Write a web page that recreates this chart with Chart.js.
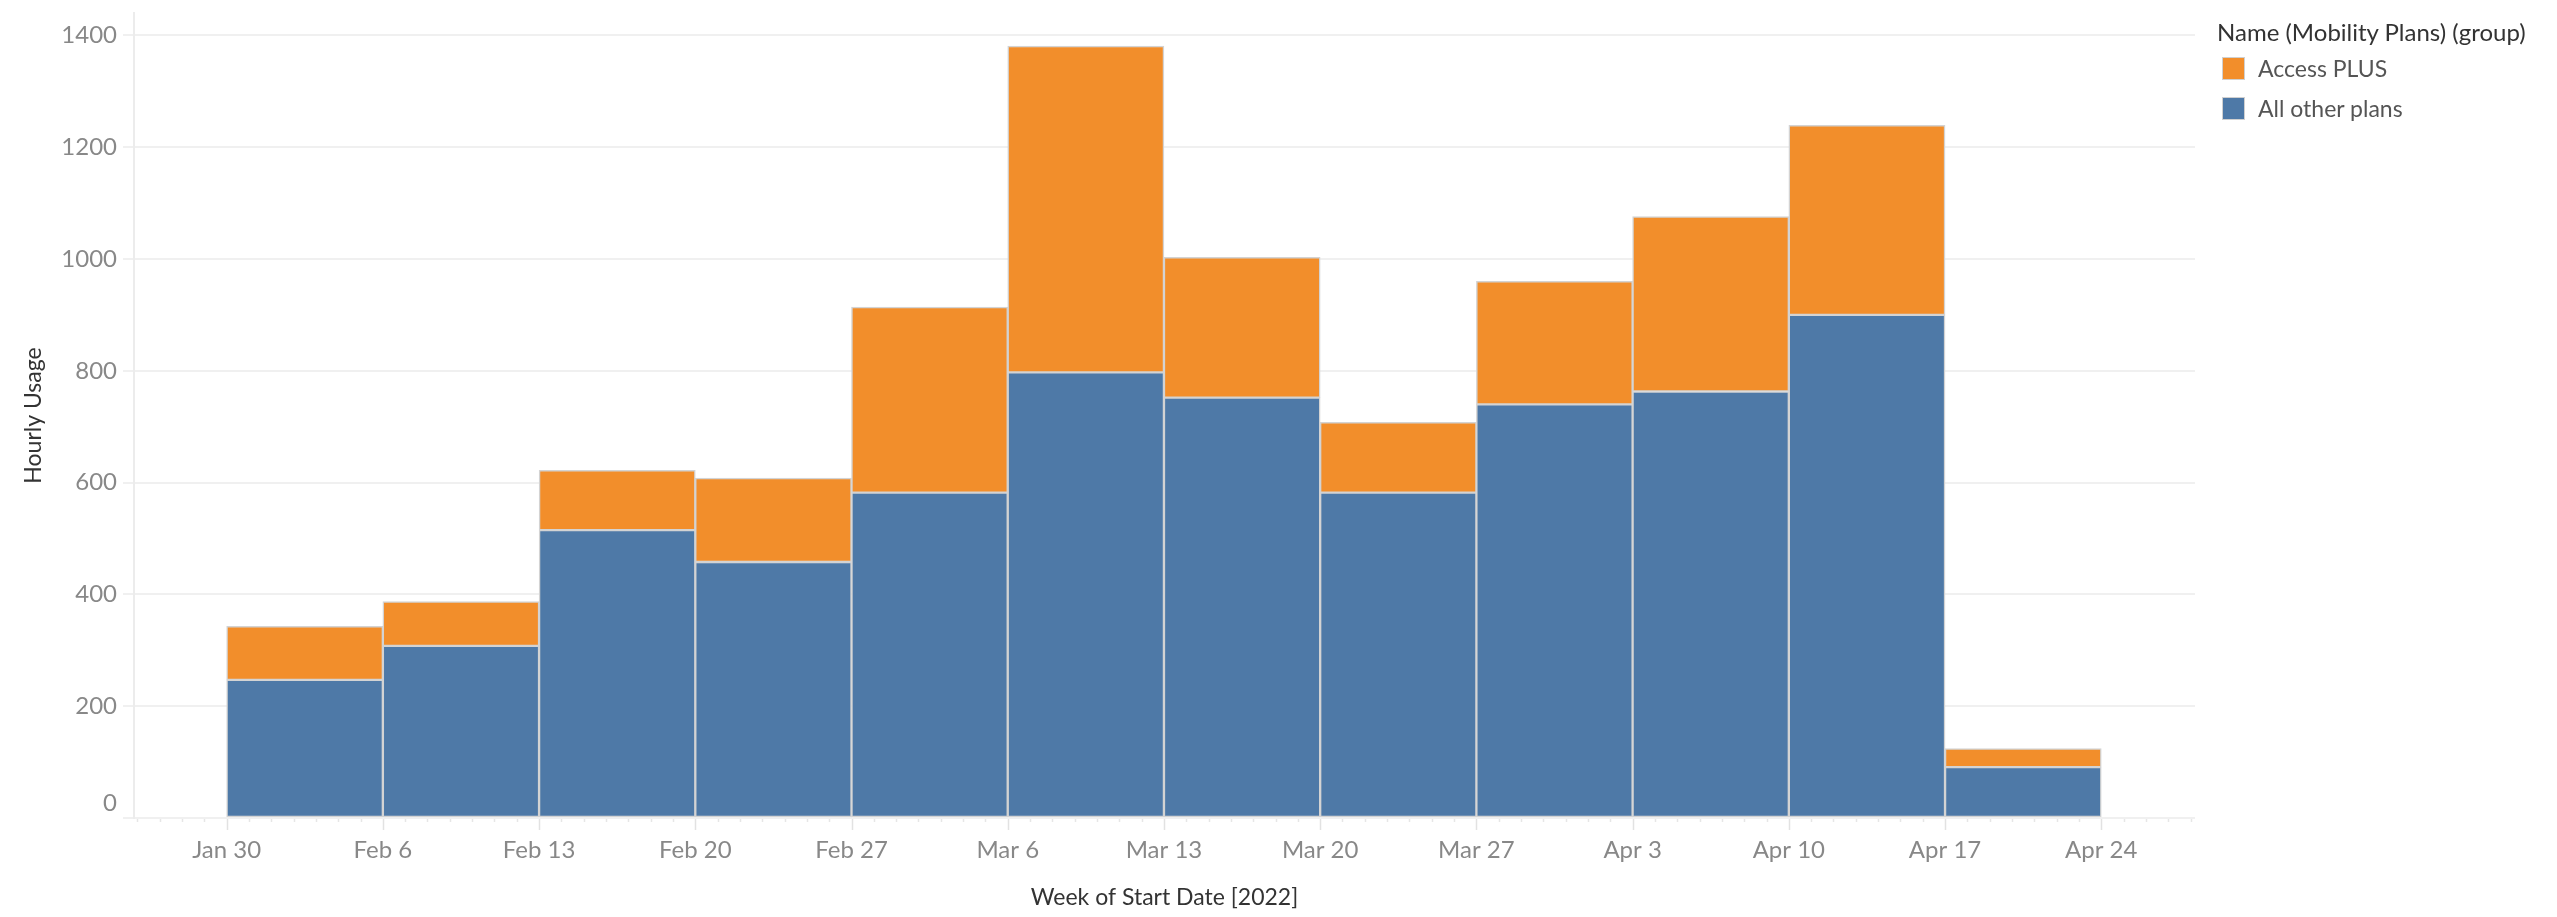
<!DOCTYPE html>
<html>
<head>
<meta charset="utf-8">
<script src="https://cdn.jsdelivr.net/npm/chart.js@4.4.1/dist/chart.umd.min.js"></script>
<style>
  body { margin: 0; background: #fff; font-family: Lato, sans-serif; }
  #wrap { position: relative; width: 2557px; height: 917px; }
  #legend { position: absolute; left: 2217px; top: 16px; color: #333; font-size: 24px; }
  #legend .ttl { line-height: 32px; }
  #legend .row { display: flex; align-items: center; height: 40px; margin-left: 5px; color: #555; font-size: 23px; }
  #legend .sw { width: 21px; height: 21px; border: 1px solid #d0d0d0; margin-right: 13px; }
</style>
</head>
<body>
<div id="wrap">
  <canvas id="chart"></canvas>
  <div id="legend">
    <div class="ttl">Name (Mobility Plans) (group)</div>
    <div class="row"><div class="sw" style="background:#f28e2b"></div>Access PLUS</div>
    <div class="row"><div class="sw" style="background:#4e79a7"></div>All other plans</div>
  </div>
</div>
<script>
// week start labels (tick at each week edge)
const weekLabels = ['Jan 30', 'Feb 6', 'Feb 13', 'Feb 20', 'Feb 27', 'Mar 6', 'Mar 13',
  'Mar 20', 'Mar 27', 'Apr 3', 'Apr 10', 'Apr 17', 'Apr 24'];
const allOtherPlans = [247, 308, 515, 458, 582, 797, 752, 582, 740, 763, 900, 91];
const accessPlus = [96, 79, 107, 150, 332, 584, 251, 126, 220, 313, 339, 33];
const yTicks = [0, 200, 400, 600, 800, 1000, 1200, 1400];

const BLUE = '#4e79a7';
const ORANGE = '#f28e2b';
const EDGE = '#d3d3d3';

// each bar spans its week: centred half a step after the week start tick
const toPoints = arr => arr.map((v, i) => ({ x: i + 0.5, y: v }));

// daily minor ticks + weekly major ticks under the axis (Tableau style)
const dayTicks = {
  id: 'dayTicks',
  afterDraw(chart) {
    const xs = chart.scales.x, ctx = chart.ctx;
    const y0 = chart.chartArea.bottom;
    ctx.save();
    ctx.lineWidth = 1.5;
    for (let d = Math.ceil(xs.min * 7); d <= xs.max * 7; d++) {
      const px = Math.round(xs.getPixelForValue(d / 7)) + 0.5;
      const major = d % 7 === 0;
      ctx.strokeStyle = major ? '#e2e2e2' : '#e6e6e6';
      ctx.beginPath();
      ctx.moveTo(px, y0 + 1);
      ctx.lineTo(px, y0 + (major ? 12 : 4));
      ctx.stroke();
    }
    ctx.restore();
  }
};

new Chart(document.getElementById('chart'), {
  type: 'bar',
  data: {
    datasets: [
      { label: 'All other plans', data: toPoints(allOtherPlans), backgroundColor: BLUE },
      { label: 'Access PLUS', data: toPoints(accessPlus), backgroundColor: ORANGE }
    ]
  },
  options: {
    responsive: true,
    maintainAspectRatio: false,
    animation: false,
    layout: { padding: { left: 0, right: 362, top: 13, bottom: 0 } },
    datasets: {
      bar: {
        barPercentage: 1,
        categoryPercentage: 1,
        borderColor: EDGE,
        borderWidth: 1.5,
        borderSkipped: false
      }
    },
    plugins: {
      legend: { display: false },
      tooltip: { enabled: false }
    },
    scales: {
      x: {
        type: 'linear',
        stacked: true,
        offset: false,
        min: -0.593,
        max: 12.6,
        afterBuildTicks: s => { s.ticks = weekLabels.map((_, i) => ({ value: i })); },
        afterFit: s => { s.height = 99; s.paddingLeft = 0; s.paddingRight = 0; },
        grid: { display: false },
        border: { display: false },
        ticks: {
          autoSkip: false,
          maxRotation: 0,
          padding: 10,
          color: '#888',
          font: { family: 'Lato', size: 24 },
          callback: (v, i) => weekLabels[i]
        },
        title: {
          display: true,
          text: 'Week of Start Date [2022]',
          color: '#333',
          font: { family: 'Lato', size: 23 },
          padding: { top: 0, bottom: 6 }
        }
      },
      y: {
        stacked: true,
        min: 0,
        max: 1440,
        afterBuildTicks: s => { s.ticks = yTicks.map(v => ({ value: v })); },
        afterFit: s => { s.width = 134; s.paddingTop = 0; s.paddingBottom = 0; },
        grid: { color: '#f0f0f0', lineWidth: 2, tickLength: 11 },
        border: { display: true, color: '#ececec', width: 2 },
        ticks: {
          padding: 6,
          color: '#888',
          font: { family: 'Lato', size: 24 },
          callback: v => v === 0 ? ['0', ''] : v
        },
        title: {
          display: true,
          text: 'Hourly Usage',
          color: '#333',
          font: { family: 'Lato', size: 23 },
          padding: { top: 20, bottom: 0 }
        }
      }
    }
  },
  plugins: [dayTicks]
});
</script>
</body>
</html>
